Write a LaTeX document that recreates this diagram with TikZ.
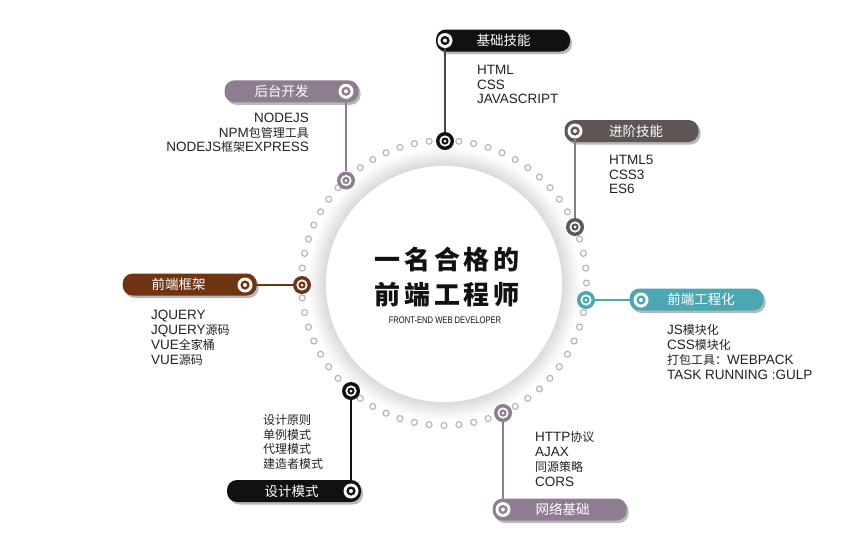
\documentclass[tikz,border=0pt]{standalone}
\usepackage{fontspec}
\setmainfont{Liberation Sans}
\newfontfamily\cjk{Noto Sans CJK SC}
\newfontfamily\cjkt[LetterSpace=14]{Noto Sans CJK SC}
\newcommand\cj[1]{{\cjk\fontsize{12}{15}\selectfont #1}}
\usetikzlibrary{shadows}
\definecolor{blk}{HTML}{111111}
\definecolor{mauve}{HTML}{8E7C91}
\definecolor{dgray}{HTML}{5E5554}
\definecolor{brown}{HTML}{6F3512}
\definecolor{teal}{HTML}{4BA8B3}
\definecolor{txt}{HTML}{222222}
\definecolor{dotc}{HTML}{B3B3B3}
\tikzset{
  pill/.style={rounded corners=10pt, minimum width=134pt, minimum height=22pt, inner sep=0pt, fill=#1,
    drop shadow={shadow xshift=2pt, shadow yshift=-2.5pt, opacity=0.28, fill=black}},
  pilltext/.style={text=white, font=\cjk\fontsize{13.5}{15}\selectfont, inner sep=0pt},
  ringmark/.style={circle, inner sep=0pt, minimum size=18pt, fill=#1,
    path picture={\fill[white] (path picture bounding box.center) circle[radius=5.6pt];
      \fill[#1] (path picture bounding box.center) circle[radius=3.6pt];
      \fill[white] (path picture bounding box.center) circle[radius=1.5pt];}},
  pillmark/.style={circle, inner sep=0pt, minimum size=15pt, fill=white,
    path picture={\fill[#1] (path picture bounding box.center) circle[radius=4.6pt];
      \fill[white] (path picture bounding box.center) circle[radius=2pt];}},
  conn/.style={line width=1.2pt, draw=#1},
  lst/.style={text=txt, font=\fontsize{13.5}{15}\selectfont, inner sep=0pt},
  dotst/.style={draw=dotc, line width=1.1pt},
}
\pgfmathdeclarefunction{angd}{2}{\pgfmathparse{abs(mod(#1-#2+540,360)-180)}}
\begin{document}
\begin{tikzpicture}[x=1pt,y=-1pt]
\useasboundingbox[fill=white] (0,0) rectangle (856,550);
% shadow of central disc
\foreach \r in {119,...,136}{\fill[black, opacity=0.006] (444,284) circle[radius=\r pt];}
\node[circle, fill=white, minimum size=236pt, inner sep=0pt] (core) at (444,284) {};
% dotted ring
\foreach \a in {0,6,...,354}{
  \pgfmathsetmacro\dd{min(angd(\a,270),angd(\a,226.1),angd(\a,336.9),angd(\a,179.2),angd(\a,6.8),angd(\a,130.7),angd(\a,65.6))}
  \ifdim\dd pt>3.5pt \draw[dotst, shift={(444,283)}] (\a:142.5) circle[radius=3pt]; \fi
}
% title
\node[inner sep=0pt, font=\cjkt\bfseries\fontsize{26}{28}\selectfont, text=blk] (t1) at (447,260) {一名合格的};
\node[inner sep=0pt, font=\cjkt\bfseries\fontsize{26}{28}\selectfont, text=blk] (t2) at (447,295) {前端工程师};
\node[inner sep=0pt, font=\fontsize{9.5}{10}\selectfont, text=blk] (t3) at (445,320) {\scalebox{0.8}[1]{FRONT-END WEB DEVELOPER}};
% ring markers
\node[ringmark=blk] (rm1) at (445,141) {};
\node[ringmark=mauve] (rm2) at (346,180.5) {};
\node[ringmark=dgray] (rm3) at (575,227) {};
\node[ringmark=brown] (rm4) at (302,285) {};
\node[ringmark=teal] (rm5) at (586,300) {};
\node[ringmark=blk] (rm6) at (351,391) {};
\node[ringmark=mauve] (rm7) at (503,413) {};
% pills
\node[pill=blk] (p1) at (503,40.5) {};
\node[pill=mauve] (p2) at (291.5,91.3) {};
\node[pill=dgray] (p3) at (631.5,131) {};
\node[pill=brown] (p4) at (189.7,284.5) {};
\node[pill=teal] (p5) at (696.5,299.5) {};
\node[pill=blk] (p6) at (294,491) {};
\node[pill=mauve] (p7) at (559.7,509.5) {};
% pill markers
\node[pillmark=blk] (pm1) at (445,40.5) {};
\node[pillmark=mauve] (pm2) at (346,91.3) {};
\node[pillmark=dgray] (pm3) at (575,131) {};
\node[pillmark=brown] (pm4) at (245,285) {};
\node[pillmark=teal] (pm5) at (641,300) {};
\node[pillmark=blk] (pm6) at (351,491) {};
\node[pillmark=mauve] (pm7) at (503,509.5) {};
% connectors
\draw[conn=dgray!80!black] (rm1) -- (pm1);
\draw[conn=mauve] (rm2) -- (pm2);
\draw[conn=gray] (rm3) -- (pm3);
\draw[conn=brown] (rm4) -- (pm4);
\draw[conn=teal] (rm5) -- (pm5);
\draw[conn=blk] (rm6) -- (pm6);
\draw[conn=mauve] (rm7) -- (pm7);
% pill labels
\node[pilltext] (n1) at (503.5,40.7) {基础技能};
\node[pilltext] (n2) at (281.5,91.3) {后台开发};
\node[pilltext] (n3) at (636,131) {进阶技能};
\node[pilltext] (n4) at (178.7,284.5) {前端框架};
\node[pilltext] (n5) at (701,299.5) {前端工程化};
\node[pilltext] (n6) at (291.7,491) {设计模式};
\node[pilltext] (n7) at (562.5,509.5) {网络基础};
% lists
\node[lst, anchor=base west] (a1) at (477,74.5) {HTML};
\node[lst, anchor=base west] (a2) at (477,89) {CSS};
\node[lst, anchor=base west] (a3) at (477,103.5) {JAVASCRIPT};
\node[lst, anchor=base east] (b1) at (309,122.5) {NODEJS};
\node[lst, anchor=base east] (b2) at (309,137) {NPM\cj{包管理工具}};
\node[lst, anchor=base east] (b3) at (309,151.5) {NODEJS\cj{框架}EXPRESS};
\node[lst, anchor=base west] (c1) at (609,164.5) {HTML5};
\node[lst, anchor=base west] (c2) at (609,179) {CSS3};
\node[lst, anchor=base west] (c3) at (609,193.5) {ES6};
\node[lst, anchor=base west] (d1) at (151,319) {JQUERY};
\node[lst, anchor=base west] (d2) at (151,334.3) {JQUERY\cj{源码}};
\node[lst, anchor=base west] (d3) at (151,349.5) {VUE\cj{全家桶}};
\node[lst, anchor=base west] (d4) at (151,364.8) {VUE\cj{源码}};
\node[lst, anchor=base west] (e1) at (667,334) {JS\cj{模块化}};
\node[lst, anchor=base west] (e2) at (667,349) {CSS\cj{模块化}};
\node[lst, anchor=base west] (e3) at (667,364) {\cj{打包工具：}WEBPACK};
\node[lst, anchor=base west] (e4) at (667,379) {TASK RUNNING :GULP};
\node[lst, anchor=base west] (f1) at (263,424.5) {\cj{设计原则}};
\node[lst, anchor=base west] (f2) at (263,439) {\cj{单例模式}};
\node[lst, anchor=base west] (f3) at (263,453.5) {\cj{代理模式}};
\node[lst, anchor=base west] (f4) at (263,468.5) {\cj{建造者模式}};
\node[lst, anchor=base west] (g1) at (535,441.5) {HTTP\cj{协议}};
\node[lst, anchor=base west] (g2) at (535,456.5) {AJAX};
\node[lst, anchor=base west] (g3) at (535,471.5) {\cj{同源策略}};
\node[lst, anchor=base west] (g4) at (535,486) {CORS};
\end{tikzpicture}
\end{document}
